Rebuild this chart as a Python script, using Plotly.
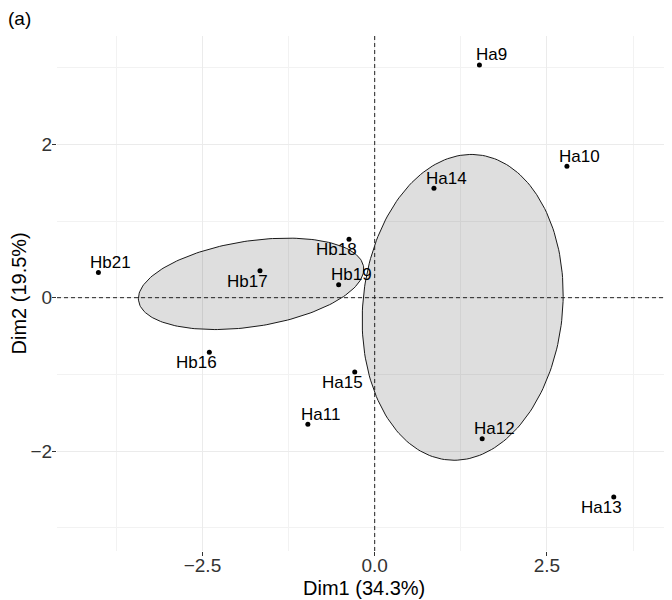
import numpy as np
import plotly.graph_objects as go

# ---- data ----
names = ["Ha9", "Ha10", "Ha11", "Ha12", "Ha13", "Ha14", "Ha15",
         "Hb16", "Hb17", "Hb18", "Hb19", "Hb21"]
dim1 = [1.52, 2.79, -0.97, 1.56, 3.47, 0.86, -0.29,
        -2.40, -1.665, -0.373, -0.523, -4.01]
dim2 = [3.035, 1.714, -1.651, -1.839, -2.60, 1.427, -0.969,
        -0.712, 0.352, 0.762, 0.170, 0.33]
groups = ["Ha"] * 7 + ["Hb"] * 5
label_side = ["ne", "ne", "ne", "ne", "sw", "ne", "sw",
              "sw", "sw", "sw", "ne", "ne"]
x_title = "Dim1 (34.3%)"
y_title = "Dim2 (19.5%)"
panel_tag = "(a)"
conf_level = 0.95

FONT = "Liberation Sans, Arial, sans-serif"

x = np.array(dim1)
y = np.array(dim2)
g = np.array(groups)

fig = go.Figure()

# confidence ellipses around group barycentres (cov / n, chi2 2 df)
t = np.sqrt(-2.0 * np.log(1.0 - conf_level))
a = np.linspace(0, 2 * np.pi, 200)
for grp in ["Ha", "Hb"]:
    m = g == grp
    pts = np.column_stack([x[m], y[m]])
    n = pts.shape[0]
    cov = np.cov(pts, rowvar=False) / n
    cx, cy = pts.mean(axis=0)
    sx, sy = np.sqrt(np.diag(cov))
    r = cov[0, 1] / (sx * sy)
    d = np.arccos(r)
    ex = t * sx * np.cos(a + d / 2) + cx
    ey = t * sy * np.cos(a - d / 2) + cy
    fig.add_trace(go.Scatter(
        x=ex, y=ey, mode="lines", fill="toself",
        fillcolor="rgba(0,0,0,0.13)",
        line=dict(color="#1a1a1a", width=1),
        hoverinfo="skip", showlegend=False))

# points
fig.add_trace(go.Scatter(
    x=x, y=y, mode="markers",
    marker=dict(color="black", size=5),
    text=names, showlegend=False))

# labels
for nm, xi, yi, side in zip(names, dim1, dim2, label_side):
    if side == "ne":
        dx, dy = 12.5, 10
    else:
        dx, dy = -12.5, -10.5
    fig.add_annotation(x=xi, y=yi, text=nm, showarrow=False,
                       xanchor="center", yanchor="middle",
                       xshift=dx, yshift=dy,
                       font=dict(family=FONT, size=17, color="black"))

# dashed reference lines
fig.add_shape(type="line", xref="x", yref="paper", x0=0, x1=0, y0=0, y1=1,
              line=dict(color="#222", width=1, dash="4px,3px"))
fig.add_shape(type="line", xref="paper", yref="y", x0=0, x1=1, y0=0, y1=0,
              line=dict(color="#222", width=1, dash="4px,3px"))

# axis titles and panel tag as annotations
fig.add_annotation(xref="paper", yref="paper", x=0.5, y=0, yshift=-37,
                   text=x_title, showarrow=False, xanchor="center",
                   yanchor="middle",
                   font=dict(family=FONT, size=20, color="black"))
fig.add_annotation(xref="paper", yref="paper", x=0, y=0.5, xshift=-39,
                   text=y_title, showarrow=False, textangle=-90,
                   xanchor="center", yanchor="middle",
                   font=dict(family=FONT, size=20, color="black"))
fig.add_annotation(xref="paper", yref="paper", x=0, y=1, xshift=-51,
                   yshift=18, text=panel_tag, showarrow=False,
                   xanchor="left", yanchor="middle",
                   font=dict(family=FONT, size=19, color="black"))

grid_col = "#ebebeb"
fig.update_xaxes(
    range=[-4.611, 4.286], tickvals=[-2.5, 0, 2.5], tickformat=".1f",
    showgrid=True, gridcolor=grid_col, gridwidth=1,
    minor=dict(tickvals=[-3.75, -1.25, 1.25, 3.75], showgrid=True,
               gridcolor="#f2f2f2", gridwidth=0.8, ticks=""),
    zeroline=False, showline=False, automargin=False,
    ticks="outside", ticklen=4, tickwidth=0.6, tickcolor="#333",
    ticklabelstandoff=-7,
    tickfont=dict(family=FONT, size=19, color="#333"))
fig.update_yaxes(
    range=[-3.304, 3.413], tickvals=[-2, 0, 2],
    showgrid=True, gridcolor=grid_col, gridwidth=1,
    minor=dict(tickvals=[-3, -1, 1, 3], showgrid=True,
               gridcolor="#f2f2f2", gridwidth=0.8, ticks=""),
    zeroline=False, showline=False, automargin=False,
    ticks="outside", ticklen=4, tickwidth=0.6, tickcolor="#333",
    ticklabelstandoff=-4,
    tickfont=dict(family=FONT, size=19, color="#333"))

# the page body has an 8px margin, so the figure is sized to fit the window
fig.update_layout(
    width=664, height=592,
    margin=dict(l=49, r=2, t=28, b=49),
    plot_bgcolor="white", paper_bgcolor="white",
    showlegend=False)

fig.write_html("out.html")
